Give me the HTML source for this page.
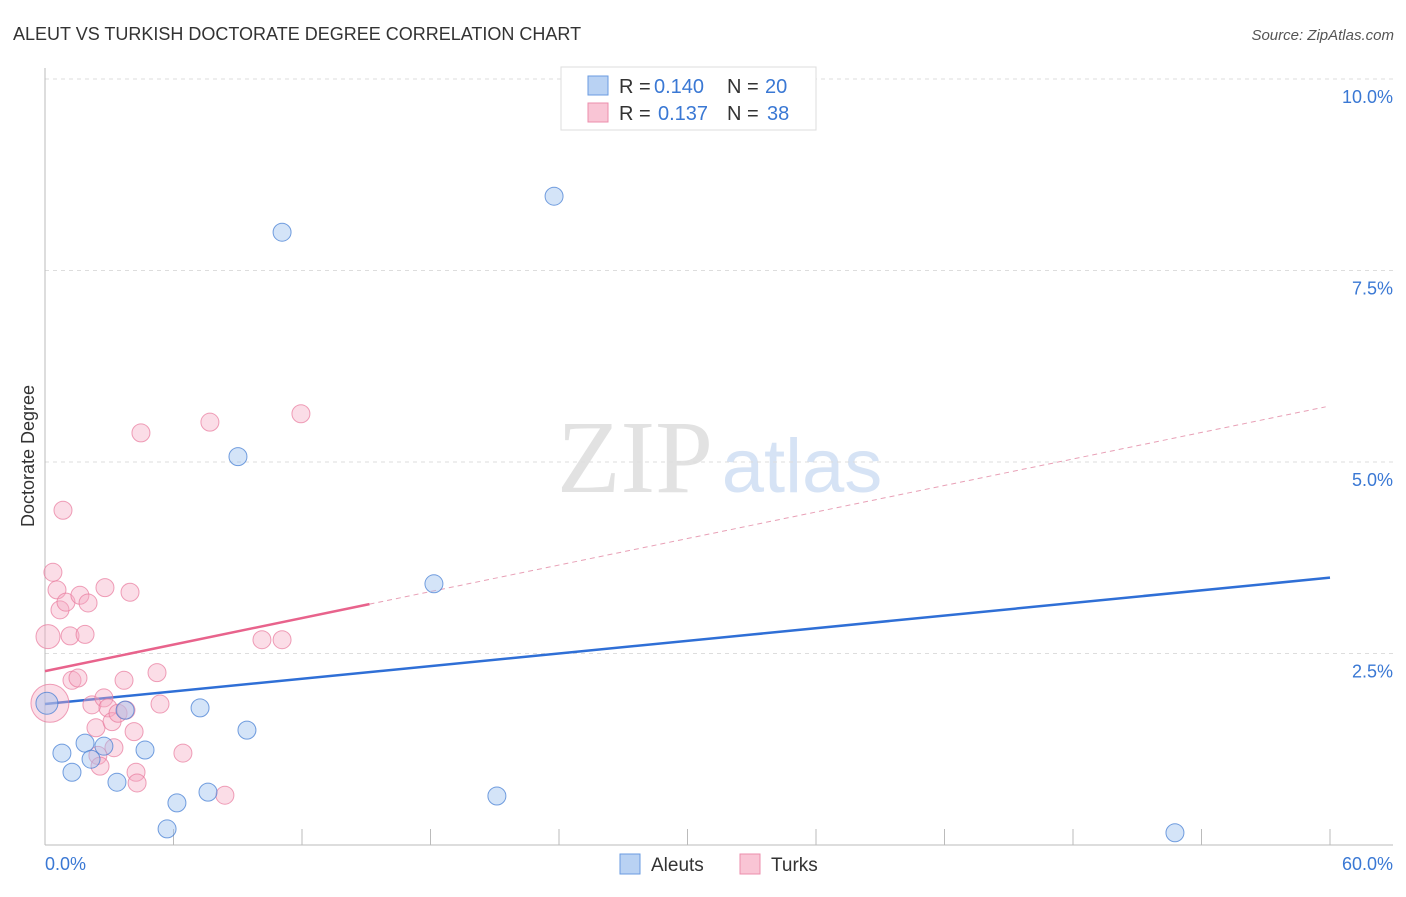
<!DOCTYPE html>
<html><head><meta charset="utf-8"><style>
body{margin:0;background:#fff;font-family:"Liberation Sans",sans-serif}
</style></head><body>
<svg id="c" width="1406" height="892" xmlns="http://www.w3.org/2000/svg" font-family="Liberation Sans, sans-serif">
<text x="13" y="40" font-size="18" fill="#333">ALEUT VS TURKISH DOCTORATE DEGREE CORRELATION CHART</text>
<text x="1394" y="40" font-size="15" fill="#555" font-style="italic" text-anchor="end">Source: ZipAtlas.com</text>
<text x="635" y="492" font-size="104" fill="#e2e2e2" font-family="Liberation Serif, serif" text-anchor="middle">ZIP</text>
<text x="802" y="492" font-size="76" fill="#d6e3f5" text-anchor="middle">atlas</text>
<g id="grid"></g><g id="ticks"></g>
<line x1="45" y1="68" x2="45" y2="845" stroke="#bbb"/>
<line x1="45" y1="845" x2="1393" y2="845" stroke="#bbb"/>
<text x="34" y="456" font-size="18" fill="#333" text-anchor="middle" transform="rotate(-90 34 456)">Doctorate Degree</text>
<text x="45" y="870" font-size="18" fill="#3a78d4">0.0%</text>
<text x="1393" y="870" font-size="18" fill="#3a78d4" text-anchor="end">60.0%</text>
<g id="lines"></g><g id="pts"></g>
<g>
<rect x="561" y="67" width="255" height="63" fill="#fff" stroke="#ddd"/>
<rect x="588" y="76" width="20" height="19" fill="#b9d2f3" stroke="#6a9be0"/>
<rect x="588" y="103" width="20" height="19" fill="#f9c5d5" stroke="#ec8eac"/>
<text y="93" font-size="20" fill="#333"><tspan x="619">R =</tspan><tspan x="654" fill="#3a78d4">0.140</tspan><tspan x="727">N =</tspan><tspan x="765" fill="#3a78d4">20</tspan></text>
<text y="120" font-size="20" fill="#333"><tspan x="619">R =</tspan><tspan x="658" fill="#3a78d4">0.137</tspan><tspan x="727">N =</tspan><tspan x="767" fill="#3a78d4">38</tspan></text>
</g>
<g>
<rect x="620" y="854" width="20" height="20" fill="#b9d2f3" stroke="#6a9be0"/>
<text x="651" y="871" font-size="19" fill="#333">Aleuts</text>
<rect x="740" y="854" width="20" height="20" fill="#f9c5d5" stroke="#ec8eac"/>
<text x="771" y="871" font-size="19" fill="#333">Turks</text>
</g>
</svg>
<script>
const yTicks=[2.5,5,7.5,10];
const yTickLabels=["2.5%","5.0%","7.5%","10.0%"];
const xTicks=[0,6,12,18,24,30,36,42,48,54,60];
const aleutX=[0.09,0.79,1.26,1.87,2.15,2.75,3.36,3.74,4.67,5.70,6.16,7.24,7.61,9.01,9.43,11.07,18.16,21.10,23.77,52.76];
const aleutY=[1.85,1.20,0.95,1.33,1.12,1.29,0.82,1.76,1.24,0.21,0.55,1.79,0.69,5.07,1.50,8.00,3.41,0.64,8.47,0.16];
const turkX=[0.23,0.37,0.56,0.70,0.84,0.98,1.17,0.14,1.26,1.54,1.63,1.87,2.01,2.19,2.38,2.47,2.57,2.75,2.80,2.94,3.13,3.22,3.41,3.69,3.78,3.97,4.16,4.25,4.30,4.48,5.23,5.37,6.44,7.70,8.40,10.13,11.07,11.95];
const turkY=[1.85,3.56,3.33,3.07,4.37,3.17,2.73,2.72,2.15,2.18,3.26,2.75,3.16,1.83,1.53,1.17,1.03,1.92,3.36,1.79,1.61,1.27,1.72,2.15,1.76,3.30,1.48,0.95,0.81,5.38,2.25,1.84,1.20,5.52,0.65,2.68,2.68,5.63];
const aleutTrend=[1.84,0.0275];
const turkTrend=[2.27,0.0577];
const X=v=>45+v/60*1285, Y=v=>845-v*76.6;
const NS="http://www.w3.org/2000/svg";
function mk(t,a,p){const e=document.createElementNS(NS,t);for(const k in a)e.setAttribute(k,a[k]);p.appendChild(e);return e;}
const g=document.getElementById('grid');
yTicks.forEach((v,i)=>{
 const l=mk('line',{x1:45,x2:1393,y1:Y(v),y2:Y(v),stroke:'#ddd','stroke-dasharray':'4,4'},g);
 
 
 const t=mk('text',{x:1393,y:Y(v)+24,'font-size':18,fill:'#3a78d4','text-anchor':'end'},g);
 t.textContent=yTickLabels[i];
 
 
});
const tk=document.getElementById('ticks');
xTicks.forEach(v=>{
 const l=mk('line',{x1:X(v),x2:X(v),y1:829,y2:845,stroke:'#bbb'},tk);
 
 
});
const L=document.getElementById('lines');
let l1=mk('line',{x1:X(0),y1:Y(aleutTrend[0]),x2:X(60),y2:Y(aleutTrend[0]+60*aleutTrend[1]),stroke:'#2f6fd6','stroke-width':2.5},L);


const xs=Math.max(...turkX)+3.2;
let l2=mk('line',{x1:X(0),y1:Y(turkTrend[0]),x2:X(xs),y2:Y(turkTrend[0]+xs*turkTrend[1]),stroke:'#e8638c','stroke-width':2.5},L);


let l3=mk('line',{x1:X(xs),y1:Y(turkTrend[0]+xs*turkTrend[1]),x2:X(59.8),y2:Y(turkTrend[0]+59.8*turkTrend[1]),stroke:'#e8a0b6','stroke-width':1,'stroke-dasharray':'5,4'},L);


const P=document.getElementById('pts');
turkX.forEach((x,i)=>{
 const r=i==0?19:(i==7?12:9);
 const c=mk('circle',{cx:X(x),cy:Y(turkY[i]),r:r,fill:'rgba(246,170,195,0.4)',stroke:'rgba(232,120,155,0.7)','stroke-width':1},P);
 
 
});
aleutX.forEach((x,i)=>{
 const r=i==0?11:9;
 const c=mk('circle',{cx:X(x),cy:Y(aleutY[i]),r:r,fill:'rgba(160,195,240,0.45)',stroke:'rgba(60,120,210,0.7)','stroke-width':1},P);
 
 
});
</script>
</body></html>
